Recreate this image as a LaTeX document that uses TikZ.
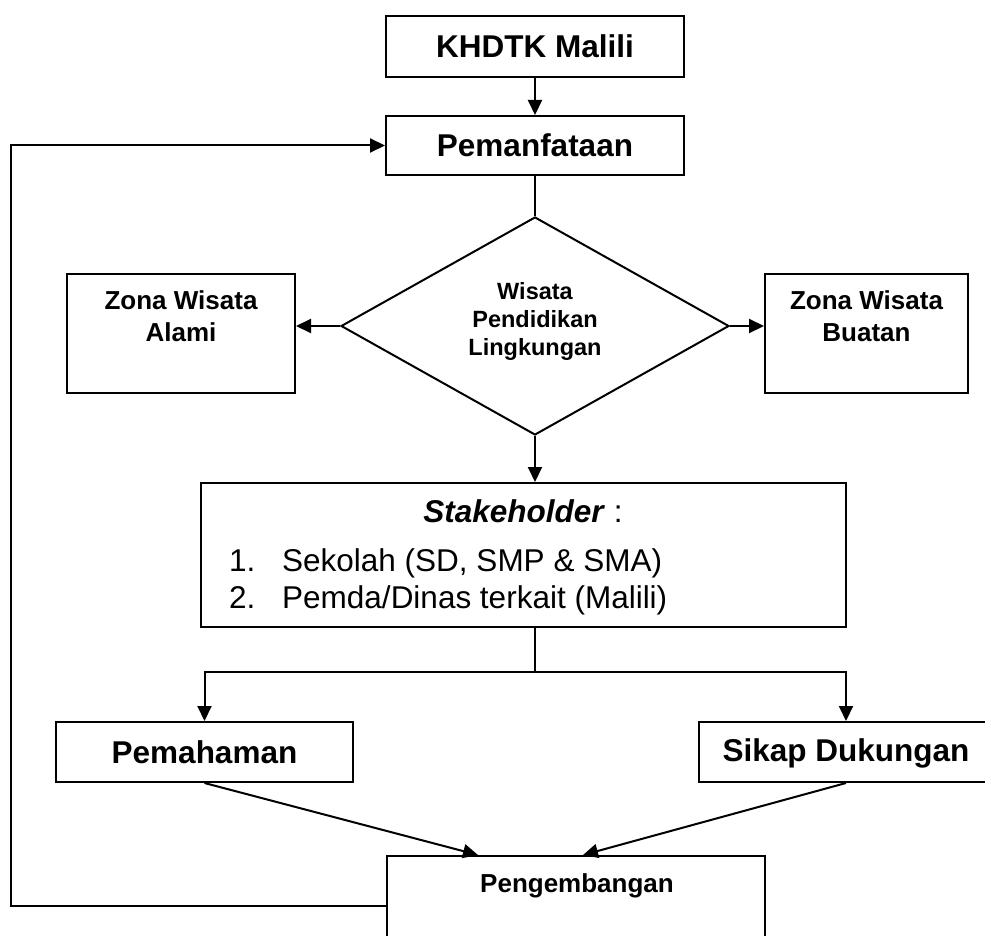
\documentclass[tikz,border=0pt]{standalone}
\usepackage{fontspec}
\setmainfont{Liberation Sans}
\usetikzlibrary{arrows.meta,shapes.geometric}
\begin{document}
\begin{tikzpicture}[x=1pt,y=-1pt,
  box/.style={draw, rectangle, line width=2pt, inner sep=0pt},
  arr/.style={-{Triangle[length=15pt,width=14pt]}, line width=2pt},
  con/.style={line width=2pt},
  lbl/.style={inner sep=0pt, anchor=base},
  bigb/.style={font=\fontsize{31.5}{36}\selectfont\bfseries},
  midb/.style={font=\fontsize{26}{30}\selectfont\bfseries},
  smlb/.style={font=\fontsize{23.5}{27}\selectfont\bfseries},
  regt/.style={font=\fontsize{31.5}{36}\selectfont}]
\fill[white] (0,0) rectangle (985,936);
\useasboundingbox (0,0) rectangle (985,936);

% boxes
\node[box, bigb, minimum width=298pt, minimum height=61pt] (khdtk) at (535,46.5) {KHDTK Malili};
\node[box, bigb, minimum width=298pt, minimum height=59pt] (pem) at (535,145.5) {Pemanfataan};
\node[draw, diamond, minimum width=388pt, minimum height=218pt, inner sep=0pt, line width=2pt] (dia) at (535,326) {};
\node[box, minimum width=228pt, minimum height=119pt] (alami) at (181,333.5) {};
\node[box, minimum width=203pt, minimum height=119pt] (buatan) at (866.5,333.5) {};
\node[box, minimum width=645pt, minimum height=144pt] (stake) at (523.5,555) {};
\node[box, bigb, minimum width=297pt, minimum height=60pt] (pemah) at (204.5,752) {Pemahaman};
\node[box, bigb, minimum width=294pt, minimum height=60pt, text depth=4pt] (sikap) at (846,752) {Sikap Dukungan};
\node[box, minimum width=378pt, minimum height=100pt] (peng) at (576,906) {};

% texts
\node[lbl, midb] (alamiA) at (181,309) {Zona Wisata};
\node[lbl, midb] (alamiB) at (181,341) {Alami};
\node[lbl, midb] (buatanA) at (866.5,309) {Zona Wisata};
\node[lbl, midb] (buatanB) at (866.5,341) {Buatan};
\node[lbl, smlb] (diaA) at (535,299) {Wisata};
\node[lbl, smlb] (diaB) at (535,327) {Pendidikan};
\node[lbl, smlb] (diaC) at (535,355) {Lingkungan};
\node[lbl, regt] (stT) at (523,522) {\textbf{\textit{Stakeholder}} :};
\node[lbl, regt, anchor=base west] (st1n) at (229,571) {1.};
\node[lbl, regt, anchor=base west] (st1) at (282,571) {Sekolah (SD, SMP \& SMA)};
\node[lbl, regt, anchor=base west] (st2n) at (229,608.5) {2.};
\node[lbl, regt, anchor=base west] (st2) at (282,608.5) {Pemda/Dinas terkait (Malili)};
\node[lbl, midb] (pengT) at (577,892) {Pengembangan};

% connectors
\draw[arr] (khdtk.south) -- (pem.north);
\draw[con] (pem.south) -- (dia.north);
\draw[arr] (dia.west) -- (dia.west -| alami.east);
\draw[arr] (dia.east) -- (dia.east -| buatan.west);
\draw[arr] (dia.south) -- (dia.south |- stake.north);
\coordinate (br) at (535,672);
\draw[con] (stake.south -| br) -- (br);
\draw[arr] (br) -| (pemah.north);
\draw[arr] (br) -| (sikap.north);
\draw[arr] (pemah.south) -- ([xshift=-98pt]peng.north);
\draw[arr] (sikap.south) -- ([xshift=7pt]peng.north);
\draw[arr] (peng.west) -- ++(-375,0) |- (pem.west);
\end{tikzpicture}
\end{document}
